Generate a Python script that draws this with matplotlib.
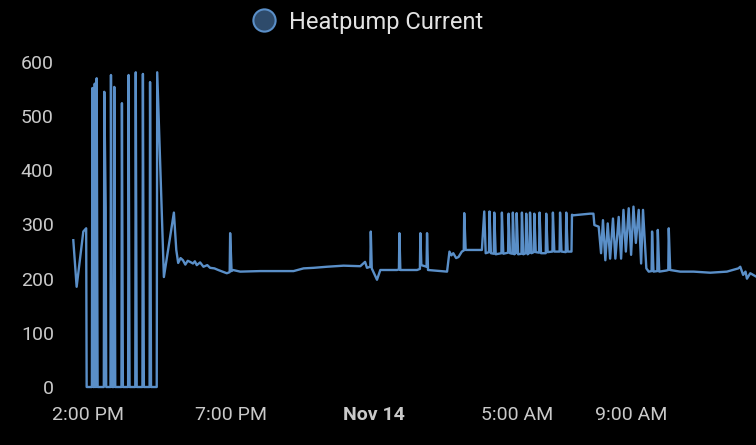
import pandas as pd
import matplotlib.pyplot as plt
from matplotlib.lines import Line2D

plt.rcParams['font.family'] = ['Roboto', 'DejaVu Sans']

# readings of the heatpump current, Nov 13 -> Nov 14
times = [
    '2023-11-13 13:29', '2023-11-13 13:36', '2023-11-13 13:50', '2023-11-13 13:56', '2023-11-13 13:57',
    '2023-11-13 14:08', '2023-11-13 14:09', '2023-11-13 14:11', '2023-11-13 14:13', '2023-11-13 14:14',
    '2023-11-13 14:15', '2023-11-13 14:16', '2023-11-13 14:17', '2023-11-13 14:18', '2023-11-13 14:20',
    '2023-11-13 14:33', '2023-11-13 14:34', '2023-11-13 14:37', '2023-11-13 14:38', '2023-11-13 14:47',
    '2023-11-13 14:48', '2023-11-13 14:50', '2023-11-13 14:54', '2023-11-13 14:55', '2023-11-13 14:57',
    '2023-11-13 15:10', '2023-11-13 15:11', '2023-11-13 15:13', '2023-11-13 15:24', '2023-11-13 15:25',
    '2023-11-13 15:27', '2023-11-13 15:39', '2023-11-13 15:40', '2023-11-13 15:42', '2023-11-13 15:54',
    '2023-11-13 15:55', '2023-11-13 15:57', '2023-11-13 16:09', '2023-11-13 16:10', '2023-11-13 16:12',
    '2023-11-13 16:24', '2023-11-13 16:25', '2023-11-13 16:39', '2023-11-13 17:00', '2023-11-13 17:05',
    '2023-11-13 17:09', '2023-11-13 17:14', '2023-11-13 17:19', '2023-11-13 17:24', '2023-11-13 17:29',
    '2023-11-13 17:34', '2023-11-13 17:40', '2023-11-13 17:44', '2023-11-13 17:48', '2023-11-13 17:55',
    '2023-11-13 18:02', '2023-11-13 18:10', '2023-11-13 18:16', '2023-11-13 18:25', '2023-11-13 18:33',
    '2023-11-13 18:51', '2023-11-13 18:57', '2023-11-13 18:58', '2023-11-13 19:01', '2023-11-13 19:04',
    '2023-11-13 19:19', '2023-11-13 20:01', '2023-11-13 21:11', '2023-11-13 21:32', '2023-11-13 21:53',
    '2023-11-13 22:21', '2023-11-13 22:56', '2023-11-13 23:31', '2023-11-13 23:41', '2023-11-13 23:45',
    '2023-11-13 23:52', '2023-11-13 23:53', '2023-11-13 23:55', '2023-11-14 00:06', '2023-11-14 00:13',
    '2023-11-14 00:48', '2023-11-14 00:52', '2023-11-14 00:53', '2023-11-14 00:55', '2023-11-14 01:30',
    '2023-11-14 01:36', '2023-11-14 01:37', '2023-11-14 01:39', '2023-11-14 01:50', '2023-11-14 01:51',
    '2023-11-14 01:53', '2023-11-14 02:33', '2023-11-14 02:38', '2023-11-14 02:42', '2023-11-14 02:46',
    '2023-11-14 02:52', '2023-11-14 02:57', '2023-11-14 03:04', '2023-11-14 03:08', '2023-11-14 03:09',
    '2023-11-14 03:12', '2023-11-14 03:46', '2023-11-14 03:51', '2023-11-14 03:54', '2023-11-14 04:01',
    '2023-11-14 04:02', '2023-11-14 04:05', '2023-11-14 04:11', '2023-11-14 04:12', '2023-11-14 04:15',
    '2023-11-14 04:27', '2023-11-14 04:28', '2023-11-14 04:31', '2023-11-14 04:41', '2023-11-14 04:42',
    '2023-11-14 04:45', '2023-11-14 04:50', '2023-11-14 04:51', '2023-11-14 04:54', '2023-11-14 04:58',
    '2023-11-14 04:59', '2023-11-14 05:02', '2023-11-14 05:09', '2023-11-14 05:10', '2023-11-14 05:13',
    '2023-11-14 05:18', '2023-11-14 05:19', '2023-11-14 05:22', '2023-11-14 05:26', '2023-11-14 05:27',
    '2023-11-14 05:30', '2023-11-14 05:35', '2023-11-14 05:36', '2023-11-14 05:39', '2023-11-14 05:46',
    '2023-11-14 05:47', '2023-11-14 05:50', '2023-11-14 06:00', '2023-11-14 06:01', '2023-11-14 06:04',
    '2023-11-14 06:14', '2023-11-14 06:15', '2023-11-14 06:18', '2023-11-14 06:29', '2023-11-14 06:30',
    '2023-11-14 06:33', '2023-11-14 06:42', '2023-11-14 06:43', '2023-11-14 06:46', '2023-11-14 06:54',
    '2023-11-14 06:55', '2023-11-14 06:58', '2023-11-14 07:33', '2023-11-14 07:40', '2023-11-14 07:42',
    '2023-11-14 07:51', '2023-11-14 07:56', '2023-11-14 08:00', '2023-11-14 08:05', '2023-11-14 08:10',
    '2023-11-14 08:15', '2023-11-14 08:21', '2023-11-14 08:26', '2023-11-14 08:33', '2023-11-14 08:38',
    '2023-11-14 08:43', '2023-11-14 08:48', '2023-11-14 08:54', '2023-11-14 08:59', '2023-11-14 09:04',
    '2023-11-14 09:09', '2023-11-14 09:15', '2023-11-14 09:20', '2023-11-14 09:24', '2023-11-14 09:31',
    '2023-11-14 09:36', '2023-11-14 09:42', '2023-11-14 09:43', '2023-11-14 09:46', '2023-11-14 09:54',
    '2023-11-14 09:55', '2023-11-14 09:58', '2023-11-14 10:13', '2023-11-14 10:17', '2023-11-14 10:18',
    '2023-11-14 10:21', '2023-11-14 10:42', '2023-11-14 11:10', '2023-11-14 11:45', '2023-11-14 12:20',
    '2023-11-14 12:44', '2023-11-14 12:48', '2023-11-14 12:54', '2023-11-14 12:59', '2023-11-14 13:02',
    '2023-11-14 13:09', '2023-11-14 13:21',
]
current = [
    271, 185, 287, 293, 0,
    0, 552, 0, 0, 560,
    380, 0, 0, 570, 0,
    0, 545, 330, 0, 0,
    576, 0, 0, 554, 0,
    0, 524, 0, 0, 576,
    0, 0, 581, 0, 0,
    578, 0, 0, 563, 0,
    0, 581, 203, 322, 253,
    229, 238, 234, 226, 233,
    231, 228, 232, 225, 230,
    222, 225, 220, 219, 216,
    210, 212, 284, 214, 216,
    213, 214, 214, 219, 220,
    222, 224, 223, 231, 220,
    222, 287, 219, 198, 216,
    216, 217, 284, 216, 216,
    218, 284, 225, 222, 284,
    216, 213, 250, 243, 247,
    238, 240, 250, 252, 321,
    253, 253, 324, 247, 249,
    324, 247, 246, 322, 245,
    247, 322, 246, 248, 320,
    247, 246, 322, 245, 248,
    321, 245, 246, 322, 245,
    247, 320, 245, 248, 322,
    247, 249, 320, 249, 248,
    322, 247, 247, 320, 249,
    250, 322, 250, 250, 322,
    250, 249, 322, 250, 250,
    318, 317, 320, 320, 299,
    296, 247, 308, 234, 302,
    237, 311, 237, 314, 237,
    327, 250, 330, 244, 333,
    266, 327, 228, 327, 219,
    213, 214, 287, 213, 214,
    290, 213, 215, 216, 293,
    216, 213, 213, 211, 213,
    219, 222, 207, 213, 200,
    210, 204,
]

y_ticks = [0, 100, 200, 300, 400, 500, 600]
x_ticks = ['2023-11-13 14:00', '2023-11-13 19:00', '2023-11-14 00:00',
           '2023-11-14 05:00', '2023-11-14 09:00']
x_labels = ['2:00 PM', '7:00 PM', 'Nov 14', '5:00 AM', '9:00 AM']
series_name = 'Heatpump Current'
unit = 'A'

line_color = '#5a8fc8'
text_color = '#c9c9c9'

t = pd.to_datetime(pd.Series(times))

fig = plt.figure(figsize=(7.56, 4.45), dpi=100, facecolor='black')
ax = fig.add_axes([73.3 / 756, 58 / 445, 682.7 / 756, 325 / 445])
ax.set_facecolor('black')
ax.plot(t, current, color=line_color, lw=1.7, clip_on=False)

ax.set_xlim(t.iloc[0], t.iloc[-1])
ax.set_ylim(0, 600)
ax.set_yticks(y_ticks)
ax.set_xticks(pd.to_datetime(pd.Series(x_ticks)))
ax.set_xticklabels(x_labels)
for lbl, txt in zip(ax.get_xticklabels(), x_labels):
    if txt.startswith('Nov'):
        lbl.set_fontweight('bold')

ax.tick_params(axis='both', length=0, colors=text_color, labelsize=14)
ax.tick_params(axis='x', pad=14)
ax.tick_params(axis='y', pad=14)
for s in ax.spines.values():
    s.set_visible(False)

# unit label, mostly cut off at the left edge like in the dashboard
fig.text(5 / 756, 0.494, unit, rotation=90, ha='right', va='center',
         color=text_color, fontsize=14)

handle = Line2D([], [], ls='', marker='o', markersize=16,
                markerfacecolor='#2e4b6b', markeredgecolor=line_color,
                markeredgewidth=1.5)
fig.legend([handle], [series_name], loc='center', bbox_to_anchor=(0.485, 0.95),
           frameon=False, fontsize=17, labelcolor='#e2e2e2',
           handletextpad=0.45, handlelength=1.2)

plt.savefig('out.png', dpi=100, facecolor='black')
